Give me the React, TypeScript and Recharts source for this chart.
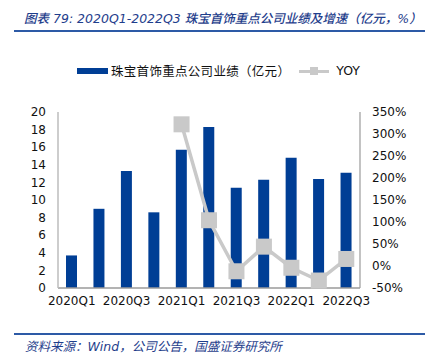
import React from 'react';
import { ComposedChart, Bar, Line, XAxis, YAxis, Legend } from 'recharts';

const categories = ['2020Q1','2020Q2','2020Q3','2020Q4','2021Q1','2021Q2','2021Q3','2021Q4','2022Q1','2022Q2','2022Q3'];
const revenue = [3.7, 9.0, 13.3, 8.6, 15.7, 18.3, 11.4, 12.3, 14.8, 12.4, 13.1];
const yoy: (number | null)[] = [null, null, null, null, 322, 104, -12, 44, -4, -33, 16];
const leftTicks = [0, 2, 4, 6, 8, 10, 12, 14, 16, 18, 20];
const rightTicks = [-50, 0, 50, 100, 150, 200, 250, 300, 350];
const boundaryTicks = [1, 2, 3, 4, 5, 6, 7, 8, 9, 10];

const barName = '珠宝首饰重点公司业绩（亿元）';
const lineName = 'YOY';
const title = '图表 79: 2020Q1-2022Q3 珠宝首饰重点公司业绩及增速（亿元，%）';
const source = '资料来源：Wind，公司公告，国盛证券研究所';

const data = categories.map((c, i) => ({ cat: c, idx: i + 0.5, rev: revenue[i], yoy: yoy[i] }));

const BLUE = '#003E95';
const GREY = '#C9C9C9';
const AXIS = '#9A9A9A';
const FONT = '"DejaVu Sans", "Noto Sans CJK SC", sans-serif';
const TXT = '#1F3E8C';

const SquareDot = (props: any) => {
  const { cx, cy, index } = props;
  if (cx == null || cy == null || props.value == null) return <g key={'d' + index} />;
  return <rect key={'d' + index} x={cx - 8} y={cy - 8} width={16} height={16} fill={GREY} />;
};

const LegendContent = () => (
  <div style={{ display: 'flex', alignItems: 'center', fontFamily: FONT, fontSize: 12.5, color: '#111' }}>
    <span style={{ display: 'inline-block', width: 31, height: 6, background: BLUE, marginRight: 3 }} />
    <span style={{ fontFamily: '"Noto Sans CJK SC", sans-serif', letterSpacing: 0.3 }}>{barName}</span>
    <span style={{ display: 'inline-block', position: 'relative', width: 30, height: 8, marginLeft: 9, marginRight: 7 }}>
      <span style={{ position: 'absolute', left: 0, top: 3, width: 30, height: 3, background: GREY }} />
      <span style={{ position: 'absolute', left: 11, top: 0, width: 8, height: 8, background: GREY }} />
    </span>
    <span style={{ fontSize: 12.5 }}>{lineName}</span>
  </div>
);

export default function App() {
  return (
    <div style={{ position: 'fixed', left: 0, top: 0, width: 431, height: 359, background: '#fff', overflow: 'hidden' }}>
      <div style={{ position: 'absolute', left: 24, top: 8, fontFamily: FONT, fontStyle: 'italic', fontWeight: 500, fontSize: 12.5, color: TXT, whiteSpace: 'nowrap' }}>
        {title}
      </div>
      <div style={{ position: 'absolute', left: 14, top: 30, width: 411, height: 2, background: '#2D5AA6' }} />
      <div style={{ position: 'absolute', left: 0, top: 0 }}>
        <ComposedChart width={431} height={359} data={data} margin={{ top: 93, bottom: 41, left: 8, right: 11 }}>
          <XAxis xAxisId="g" type="number" dataKey="idx" domain={[0, 11]} ticks={boundaryTicks} mirror height={0}
            tick={false} axisLine={false} tickLine={{ stroke: AXIS }} tickSize={5} />
          <XAxis xAxisId="x" dataKey="cat" interval={1} tickSize={0} tickMargin={8} axisLine={{ stroke: AXIS, strokeWidth: 1.5 }}
            tickLine={false} height={30} tick={{ fontFamily: FONT, fontSize: 12, fill: '#111' }} />
          <YAxis yAxisId="l" domain={[0, 20]} ticks={leftTicks} width={50} tickSize={0} tickMargin={12} tickLine={false}
            axisLine={{ stroke: '#BDBDBD', strokeWidth: 1.5 }} tick={{ fontFamily: FONT, fontSize: 12, fill: '#111' }} interval={0} />
          <YAxis yAxisId="lt" domain={[0, 20]} ticks={leftTicks} mirror width={0} tick={false} axisLine={false}
            tickLine={{ stroke: AXIS }} tickSize={4} interval={0} />
          <YAxis yAxisId="r" orientation="right" domain={[-50, 350]} ticks={rightTicks} width={60} tickSize={0} tickMargin={12}
            tickLine={false} axisLine={{ stroke: AXIS, strokeWidth: 1.2 }} interval={0}
            tickFormatter={(v: number) => v + '%'} tick={{ fontFamily: FONT, fontSize: 12, fill: '#111' }} />
          <YAxis yAxisId="rt" orientation="right" domain={[-50, 350]} ticks={rightTicks} mirror width={0} tick={false}
            axisLine={false} tickLine={{ stroke: AXIS }} tickSize={4} interval={0} />
          <Legend verticalAlign="top" wrapperStyle={{ position: 'absolute', top: 61, left: 77, width: 340 }} content={LegendContent} />
          <Bar xAxisId="x" yAxisId="l" dataKey="rev" name={barName} fill={BLUE} barSize={11} isAnimationActive={false} />
          <Line xAxisId="x" yAxisId="r" dataKey="yoy" name={lineName} stroke={GREY} strokeWidth={3.5} dot={SquareDot}
            activeDot={false} connectNulls={false} isAnimationActive={false} />
        </ComposedChart>
      </div>
      <div style={{ position: 'absolute', left: 14, top: 333, width: 411, height: 2, background: '#2D5AA6' }} />
      <div style={{ position: 'absolute', left: 25, top: 336, fontFamily: FONT, fontStyle: 'italic', fontSize: 12.5, color: TXT, whiteSpace: 'nowrap' }}>
        {source}
      </div>
    </div>
  );
}
